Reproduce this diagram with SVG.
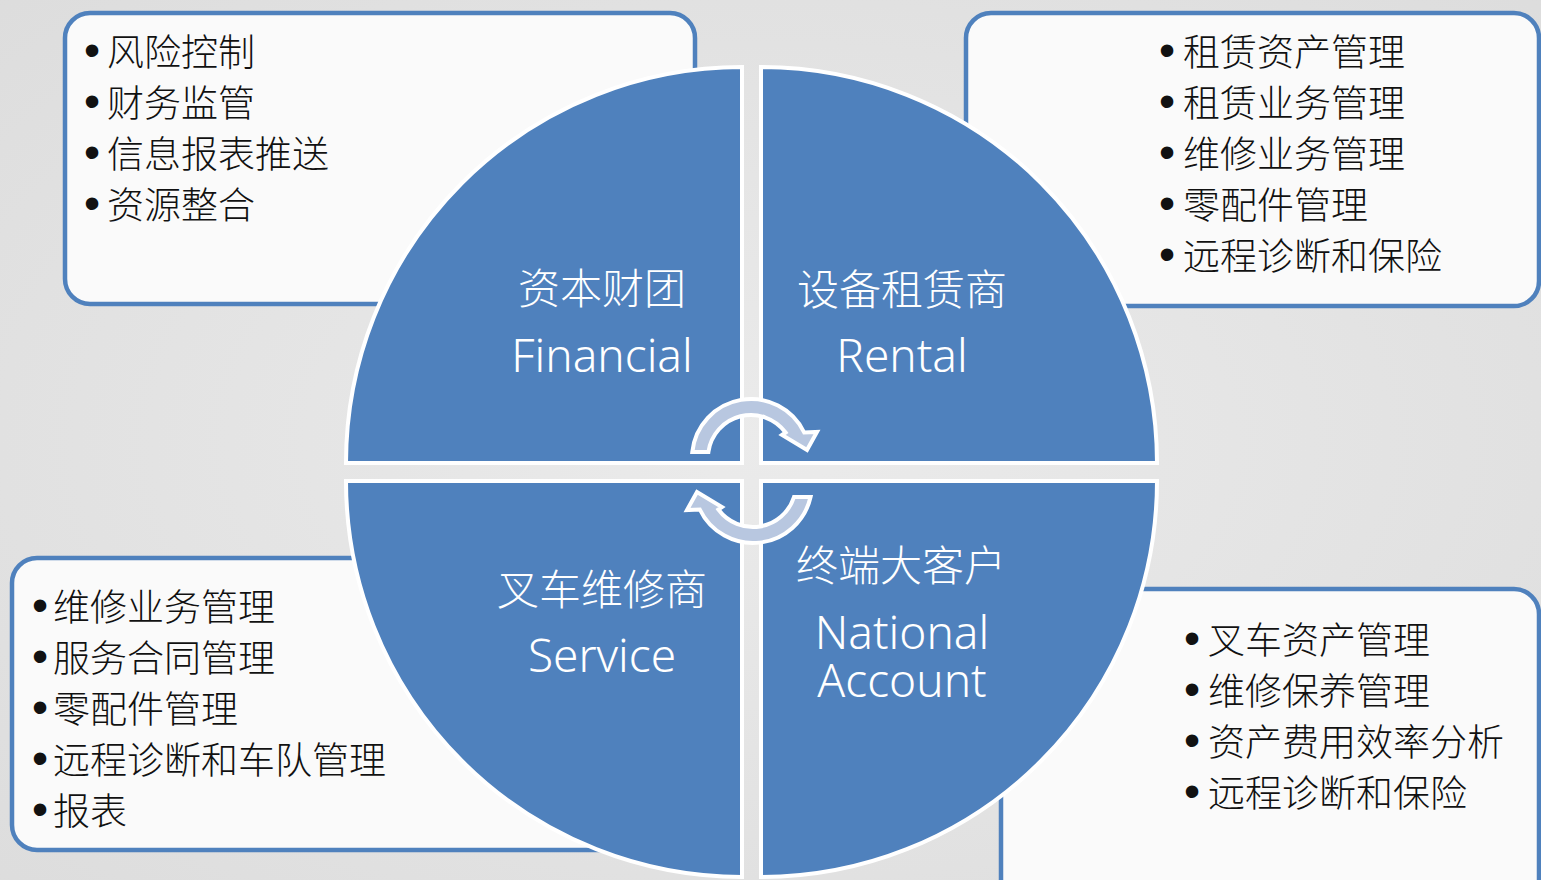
<svg xmlns="http://www.w3.org/2000/svg" width="1541" height="880" viewBox="0 0 1541 880">
<defs>
<radialGradient id="bg" cx="50%" cy="50%" r="75%">
<stop offset="0" stop-color="#EBEBEB"/>
<stop offset="1" stop-color="#DCDCDC"/>
</radialGradient>
<style>
.box{fill:#FAFAFA;stroke:#4F81BD;stroke-width:4.5}
.q{fill:#4F81BD;stroke:#FFFFFF;stroke-width:4}
.t{font-family:"Noto Sans CJK SC","Noto Sans",sans-serif;font-size:37px;font-weight:300;fill:#111111}
.dot{font-family:"Liberation Sans",sans-serif;font-size:46px;font-weight:400}
.cn{font-family:"Noto Sans CJK SC","Noto Sans",sans-serif;font-size:42px;font-weight:300;fill:#FFFFFF;text-anchor:middle}
.en{font-family:"Noto Sans","Open Sans",sans-serif;font-size:46px;font-weight:300;fill:#FFFFFF;text-anchor:middle}
.arr{fill:#B8C7E0;stroke:#FFFFFF;stroke-width:4;stroke-linejoin:miter}
</style>
</defs>
<rect id="background" x="0" y="0" width="1541" height="880" fill="url(#bg)"/>

<g id="box-financial">
<rect class="box" x="65" y="13" width="630" height="291" rx="25"/>
<text class="t" y="66"><tspan class="dot" x="84">•</tspan><tspan x="107">风险控制</tspan></text>
<text class="t" y="117"><tspan class="dot" x="84">•</tspan><tspan x="107">财务监管</tspan></text>
<text class="t" y="168"><tspan class="dot" x="84">•</tspan><tspan x="107">信息报表推送</tspan></text>
<text class="t" y="219"><tspan class="dot" x="84">•</tspan><tspan x="107">资源整合</tspan></text>
</g>

<g id="box-rental">
<rect class="box" x="966" y="13" width="573" height="293" rx="25"/>
<text class="t" y="66"><tspan class="dot" x="1159">•</tspan><tspan x="1183">租赁资产管理</tspan></text>
<text class="t" y="117"><tspan class="dot" x="1159">•</tspan><tspan x="1183">租赁业务管理</tspan></text>
<text class="t" y="168"><tspan class="dot" x="1159">•</tspan><tspan x="1183">维修业务管理</tspan></text>
<text class="t" y="219"><tspan class="dot" x="1159">•</tspan><tspan x="1183">零配件管理</tspan></text>
<text class="t" y="270"><tspan class="dot" x="1159">•</tspan><tspan x="1183">远程诊断和保险</tspan></text>
</g>

<g id="box-service">
<rect class="box" x="12" y="558" width="620" height="292" rx="25"/>
<text class="t" y="621"><tspan class="dot" x="32">•</tspan><tspan x="53">维修业务管理</tspan></text>
<text class="t" y="672"><tspan class="dot" x="32">•</tspan><tspan x="53">服务合同管理</tspan></text>
<text class="t" y="723"><tspan class="dot" x="32">•</tspan><tspan x="53">零配件管理</tspan></text>
<text class="t" y="774"><tspan class="dot" x="32">•</tspan><tspan x="53">远程诊断和车队管理</tspan></text>
<text class="t" y="825"><tspan class="dot" x="32">•</tspan><tspan x="53">报表</tspan></text>
</g>

<g id="box-national">
<rect class="box" x="1001" y="589" width="538" height="320" rx="25"/>
<text class="t" y="654"><tspan class="dot" x="1184">•</tspan><tspan x="1208">叉车资产管理</tspan></text>
<text class="t" y="705"><tspan class="dot" x="1184">•</tspan><tspan x="1208">维修保养管理</tspan></text>
<text class="t" y="756"><tspan class="dot" x="1184">•</tspan><tspan x="1208">资产费用效率分析</tspan></text>
<text class="t" y="807"><tspan class="dot" x="1184">•</tspan><tspan x="1208">远程诊断和保险</tspan></text>
</g>

<g id="quadrant-financial">
<path class="q" d="M742 463 L346 463 A396 396 0 0 1 742 67 Z"/>
<text class="cn" x="602" y="304">资本财团</text>
<text class="en" x="602" y="372">Financial</text>
</g>
<g id="quadrant-rental">
<path class="q" d="M761 463 L761 67 A396 396 0 0 1 1157 463 Z"/>
<text class="cn" x="902" y="305">设备租赁商</text>
<text class="en" x="902" y="372">Rental</text>
</g>
<g id="quadrant-service">
<path class="q" d="M742 481 L742 877 A396 396 0 0 1 346 481 Z"/>
<text class="cn" x="602" y="605">叉车维修商</text>
<text class="en" x="602" y="672">Service</text>
</g>
<g id="quadrant-national">
<path class="q" d="M761 481 L1157 481 A396 396 0 0 1 761 877 Z"/>
<text class="cn" x="901" y="581">终端大客户</text>
<text class="en" x="902" y="649">National</text>
<text class="en" x="902" y="697">Account</text>
</g>

<g id="connectors">
<path class="arr" d="M692.3 452 A59 59 0 0 1 804.2 432.5 L817 432 L807 450 L782 435 L785.6 432.5 A43 43 0 0 0 708.4 452 Z"/>
<path class="arr" transform="rotate(180 752 471)" d="M693.45 445 A59 59 0 0 1 804.2 432.5 L817 432 L807 450 L782 435 L785.6 432.5 A43 43 0 0 0 710 445 Z"/>
</g>
</svg>
